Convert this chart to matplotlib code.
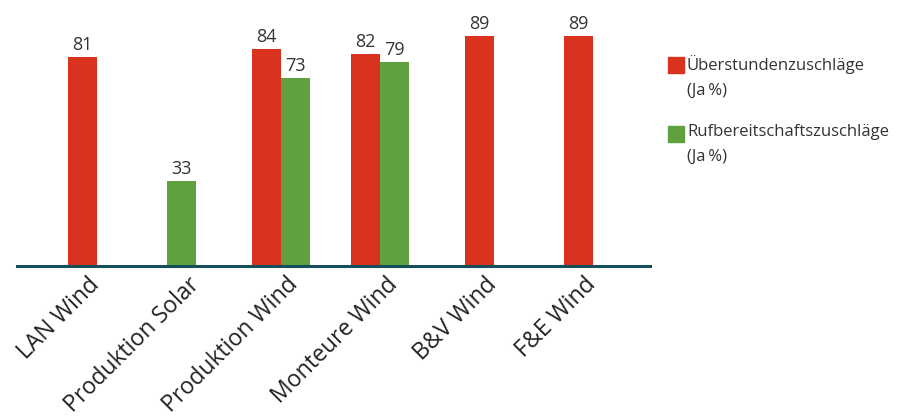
import matplotlib.pyplot as plt
import matplotlib.transforms as mtransforms
from matplotlib.patches import Rectangle
import numpy as np

plt.rcParams['font.family'] = ['Open Sans', 'DejaVu Sans']

# Daten
kategorien = ['LAN Wind', 'Produktion Solar', 'Produktion Wind',
              'Monteure Wind', 'B&V Wind', 'F&E Wind']
ueberstunden = [81, None, 84, 82, 89, 89]
rufbereitschaft = [None, 33, 73, 79, None, None]
legende = ['Überstundenzuschläge\n(Ja\u2009%)', 'Rufbereitschaftszuschläge\n(Ja\u2009%)']

rot = '#d9321f'
gruen = '#5fa03f'
farben = [rot, gruen]

W, H = 903, 418
fig = plt.figure(figsize=(W / 100, H / 100), dpi=100)
ax = fig.add_axes([17 / W, 1 - 266 / H, (650 - 17) / W, (266 - 8) / H])

breite = 0.29
x = np.arange(len(kategorien))
for i in range(len(kategorien)):
    werte = [(s, v) for s, v in enumerate([ueberstunden[i], rufbereitschaft[i]]) if v is not None]
    n = len(werte)
    for j, (s, v) in enumerate(werte):
        pos = x[i] + (j - (n - 1) / 2) * breite
        ax.bar(pos, v, width=breite, color=farben[s], zorder=2)
        ax.text(pos, v + 1.2, str(v), ha='center', va='bottom', fontsize=13, color='#333333')

ax.set_xlim(-0.66, 5.72)
ax.set_ylim(0, 100)
for s in ['top', 'right', 'left']:
    ax.spines[s].set_visible(False)
ax.spines['bottom'].set_color('#144f5a')
ax.spines['bottom'].set_linewidth(2.2)
ax.set_yticks([])
ax.set_xticks(x)
ax.set_xticklabels(kategorien, rotation=45, ha='right', va='center',
                   rotation_mode='anchor', fontsize=16.6, color='#222222')
ax.tick_params(axis='x', length=0, pad=11)
offset = mtransforms.ScaledTranslation(14 / 100, 0, fig.dpi_scale_trans)
for lbl in ax.get_xticklabels():
    lbl.set_transform(lbl.get_transform() + offset)

# Legende
for k, (txt, y0) in enumerate(zip(legende, [57, 126])):
    fig.patches.append(Rectangle((668 / W, 1 - (y0 + 16) / H), 16 / W, 16 / H,
                                 transform=fig.transFigure, color=farben[k]))
    fig.text(687 / W, 1 - (y0 - 2) / H, txt, ha='left', va='top',
             fontsize=12, color='#333333', linespacing=1.75)

fig.savefig('out.png', dpi=100)
